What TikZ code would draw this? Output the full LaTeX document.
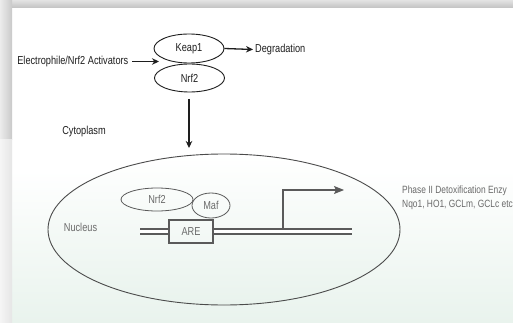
\documentclass[tikz,border=0pt]{standalone}
\usepackage{fontspec}
\setmainfont{Liberation Sans}[FakeStretch=0.8]
\usetikzlibrary{arrows.meta,shapes.geometric}
\definecolor{ink}{HTML}{1E1E1E}
\definecolor{nucink}{HTML}{6A6A6A}
\definecolor{nucline}{HTML}{5A5A5A}
\definecolor{mint}{HTML}{E9F3ED}
\begin{document}
\begin{tikzpicture}[x=1pt,y=-1pt,
  txt/.style={font=\fontsize{11.5}{13}\selectfont, text=ink, inner sep=0pt},
  ntxt/.style={font=\fontsize{11.5}{13}\selectfont, text=nucink, inner sep=0pt},
  rtxt/.style={font=\fontsize{10.5}{12}\selectfont, text=nucink, inner sep=0pt, anchor=west},
  ell/.style={ellipse, draw=ink, line width=0.9pt, inner sep=0pt, font=\fontsize{11.5}{13}\selectfont, text=ink},
  nell/.style={ellipse, draw=nucline, line width=0.8pt, inner sep=0pt, font=\fontsize{11.5}{13}\selectfont, text=nucink},
  arr/.style={draw=ink, line width=1.3pt, -{Stealth[length=7pt,width=6.5pt]}},
  garr/.style={draw=nucline, line width=1.1pt, -{Stealth[length=10pt,width=8pt,inset=2pt]}},
  dna/.style={draw=nucline, line width=1.1pt, double=white, double distance=3.9pt}
]
\useasboundingbox (0,0) rectangle (513,323);
\fill[white] (0,0) rectangle (513,323);
% faint tint of the lower part
\shade[top color=white, bottom color=mint] (12,170) rectangle (513,323);
% page shadow
\shade[top color=gray!22, bottom color=gray!48] (0,0) rectangle (513,8);
\shade[left color=gray!15, right color=gray!42] (0,0) rectangle (12,140);
\shade[left color=gray!8, right color=gray!20] (0,140) rectangle (12,323);

% nucleus
\node[ellipse, draw=ink!80, line width=0.9pt, top color=white, bottom color=mint, minimum width=352pt, minimum height=151pt] (nucleus) at (224,229.5) {};

% top part
\node[ell, minimum width=70pt, minimum height=29pt] (keap) at (189,48.5) {Keap1};
\node[ell, minimum width=70pt, minimum height=28pt] (nrf) at (189.5,78) {Nrf2};
\node[txt, anchor=east] (elec) at (128.5,61.5) {Electrophile/Nrf2 Activators};
\coordinate (elecend) at (159,61.5);
\draw[arr] ([xshift=3.5pt]elec.east) -- (elecend);
\node[txt, anchor=west] (degr) at (255,49.5) {Degradation};
\draw[arr] (keap.east) -- ([xshift=-2pt]degr.west);
\coordinate (nrfstart) at (189,99);
\coordinate (nrfend) at (189,148);
\draw[arr] (nrfstart) -- (nrfend);
\node[txt] (cyto) at (84,131.5) {Cytoplasm};

% inside nucleus
\node[ntxt] (nuctext) at (80.5,227) {Nucleus};
\node[nell, minimum width=72pt, minimum height=23pt] (nrfin) at (157,199.5) {Nrf2};
\node[nell, minimum width=38pt, minimum height=25pt] (maf) at (211,205.5) {Maf};
\node[draw=nucline, line width=1.1pt, minimum width=44pt, minimum height=23pt, inner sep=0pt, font=\fontsize{11.5}{13}\selectfont, text=nucink] (are) at (191,231.5) {ARE};
\coordinate (dnaL) at (140,231.5);
\coordinate (dnaR) at (352,231.5);
\draw[dna] (dnaL) -- (are.west);
\draw[dna] (are.east) -- (dnaR);
\coordinate (tss) at (283,229);
\coordinate (tssend) at (344,190);
\draw[garr] (tss) |- (tssend);

% right texts
\node[rtxt] (phase) at (402,191) {Phase II Detoxification Enzy};
\node[rtxt] (genes) at (402,204.5) {Nqo1, HO1, GCLm, GCLc etc};
\end{tikzpicture}
\end{document}
